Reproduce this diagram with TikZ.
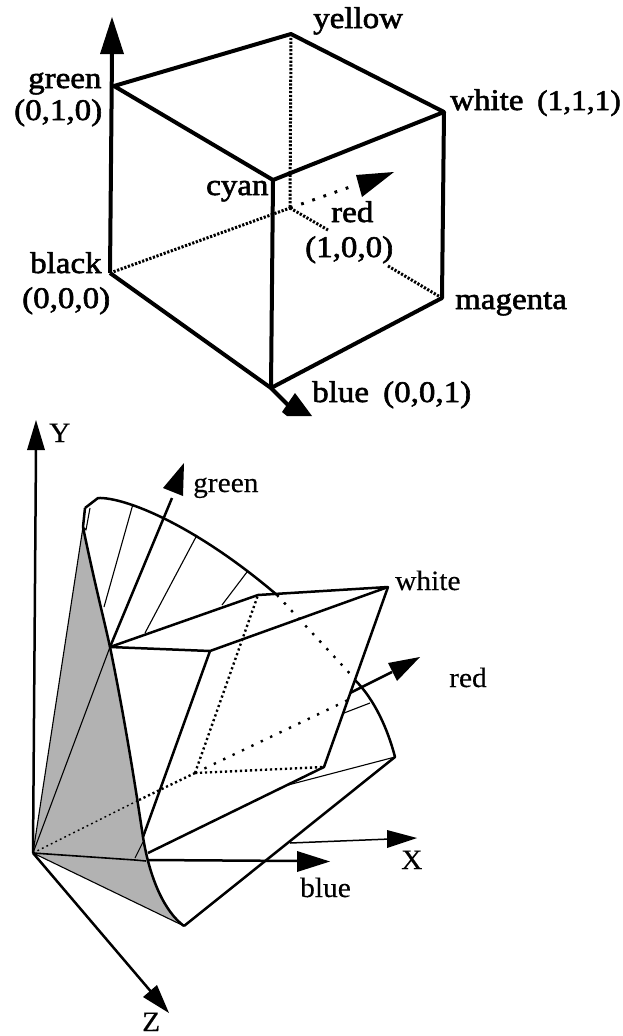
\documentclass[tikz,border=0pt]{standalone}
\usepackage{fontspec}
\newfontfamily\topfont[FakeStretch=1.1,FakeBold=2]{Liberation Serif}
\newfontfamily\lowfont[FakeStretch=1.05,FakeBold=0.25]{Liberation Serif}
\begin{document}
\begin{tikzpicture}[x=1pt,y=-1pt,line join=round,
  heavy/.style={line width=4pt,black},
  heavydot/.style={line width=3pt,black,dash pattern=on 2.2pt off 1.6pt},
  sparsedot/.style={line width=3pt,black,dash pattern=on 2.8pt off 9pt},
  toplabel/.style={anchor=base west,inner sep=0pt,font=\topfont\fontsize{30}{31}\selectfont},
  lowlabel/.style={anchor=base west,inner sep=0pt,font=\lowfont\fontsize{28}{29}\selectfont},
  bold/.style={line width=2.5pt,black},
  thin line/.style={line width=1.1pt,black},
  lowdot/.style={line width=2.4pt,black,dash pattern=on 2.2pt off 2.8pt},
  lowsparse/.style={line width=2.4pt,black,dash pattern=on 2.4pt off 8pt},
  finedot/.style={line width=1.4pt,black,dash pattern=on 1.8pt off 3.2pt},
  head/.style={fill=black,draw=none}]
\useasboundingbox (0,0) rectangle (623,1036);
%% ---------- upper cube ----------
\coordinate (black) at (110,273);
\coordinate (green) at (114,86);
\coordinate (yellow) at (291,34);
\coordinate (white) at (444,112);
\coordinate (cyan) at (273,180);
\coordinate (blue) at (271,388);
\coordinate (magenta) at (442,298);
\coordinate (back) at (290,208);
\coordinate (gtip) at (112,17);
\coordinate (gl) at (100,54);
\coordinate (gr) at (124,54);
\coordinate (gbase) at (112,54);
\coordinate (redend) at (350,187);
\coordinate (hidA) at (328,230);
\coordinate (hidB) at (388,266);
\draw[heavydot] (yellow) -- (back);
\draw[heavydot] (black) -- (back);
\draw[heavydot] (back) -- (hidA);
\draw[heavydot] (hidB) -- (magenta);
\draw[sparsedot] (back) -- (redend);
\draw[heavy] (black) -- (gbase);
\draw[heavy] (green) -- (yellow) -- (white) -- (cyan) -- cycle;
\draw[heavy] (cyan) -- (blue);
\draw[heavy] (white) -- (magenta) -- (blue) -- (black);
\draw[heavy] (blue) -- (288,405);
\fill[head] (gtip) -- (gr) -- (gl) -- cycle;
\fill[head] (356,175) -- (394,172) -- (362,197) -- cycle;
\fill[head] (282,412) -- (295,393) -- (312,416) -- (287,416) -- cycle;
\node[toplabel] (lyellow) at (313,28) {yellow};
\node[toplabel] (lgreen) at (28,88) {green};
\node[toplabel] (lg) at (14,120) {(0,1,0)};
\node[toplabel] (lwhite) at (450,110) {white};
\node[toplabel,font=\topfont\fontsize{28.5}{30}\selectfont] (lw) at (537,110) {(1,1,1)};
\node[toplabel] (lcyan) at (206,195) {cyan};
\node[toplabel] (lred) at (331,222) {red};
\node[toplabel] (lr) at (305,257) {(1,0,0)};
\node[toplabel] (lblack) at (30,273) {black};
\node[toplabel] (lb) at (22,308) {(0,0,0)};
\node[toplabel] (lmagenta) at (455,309) {magenta};
\node[toplabel] (lblue) at (312,402) {blue};
\node[toplabel] (lbb) at (383,402) {(0,0,1)};
%% ---------- lower figure ----------
\coordinate (O) at (33,853);
\coordinate (Ytip) at (36,420);
\coordinate (Ybase) at (36,449);
\coordinate (Ztip) at (169,1013);
\coordinate (Zbase) at (153,994);
\coordinate (top) at (85,508);
\coordinate (edge) at (83,527);
\coordinate (P) at (110,647);
\coordinate (Q) at (146,861);
\coordinate (S) at (184,926);
\coordinate (C) at (195,773);
\coordinate (W) at (388,587);
\coordinate (U) at (258,595);
\coordinate (V) at (210,651);
\coordinate (M) at (324,767);
\coordinate (K) at (277,595);
\coordinate (R) at (395,757);
\coordinate (A) at (355,680);
\fill[gray!60!white] (O) -- (edge) .. controls (95,585) and (103,615) .. (P)
  .. controls (122,705) and (133,770) .. (143,837) .. controls (150,880) and (165,912) .. (S) -- cycle;
\draw[thin line] (O) -- (edge);
\draw[thin line] (O) -- (P);
\draw[thin line] (O) -- (S);
\draw[bold,line width=1.6pt] (O) -- (135,860) -- (Q);
\draw[thin line] (135,858) -- (143,842);
\draw[finedot] (O) -- (139,800);
\draw[lowdot] (139,800) -- (C);
\draw[lowdot] (C) -- (U);
\draw[lowdot] (C) -- (M);
\draw[lowsparse] (C) -- (348,700);
\draw[lowsparse] (K) -- (354,678);
%% axes
\draw[bold] (O) -- (Ybase);
\fill[head] (Ytip) -- (45,450) -- (27,450) -- cycle;
\draw[bold] (O) -- (Zbase);
\fill[head] (Ztip) -- (143,997) -- (157,985) -- cycle;
\draw[line width=1.5pt] (290,843) -- (390,839);
\fill[head] (417,838) -- (387,848) -- (387,830) -- cycle;
%% gamut shell
\draw[bold] (top) -- (edge) .. controls (95,585) and (103,615) .. (P)
  .. controls (122,705) and (133,770) .. (143,837) .. controls (150,880) and (165,912) .. (S);
\draw[thin line] (edge) -- (86,530) -- (90,508);
\draw[bold] (top) -- (98,498) .. controls (125,497) and (195,525) .. (K);
\draw[thin line] (133,504) -- (104,607);
\draw[thin line] (197,535) -- (145,633);
\draw[thin line] (247,572) -- (222,605);
%% cube and arrows
\draw[bold] (P) -- (U) -- (W) -- (V) -- (P);
\draw[bold] (V) -- (143,837);
\draw[bold] (W) -- (M) -- (148,853);
\draw[bold] (A) .. controls (375,700) and (388,730) .. (R) -- (S);
\draw[thin line] (R) -- (288,785);
\draw[thin line] (344,713) -- (370,703);
\draw[bold] (P) -- (172,498);
\fill[head] (184,463) -- (183,496) -- (163,488) -- cycle;
\draw[bold] (350,693) -- (392,672);
\fill[head] (420,657) -- (397,681) -- (388,663) -- cycle;
\draw[bold] (148,860) -- (300,861);
\fill[head] (330,861.5) -- (297,872) -- (297,851) -- cycle;
\node[lowlabel] (lowY) at (49,442) {Y};
\node[lowlabel] (lowgreen) at (193,492) {green};
\node[lowlabel] (lowwhite) at (395,590) {white};
\node[lowlabel] (lowred) at (449,687) {red};
\node[lowlabel] (lowX) at (401,869) {X};
\node[lowlabel] (lowblue) at (300,897) {blue};
\node[lowlabel] (lowZ) at (142,1031) {Z};
\end{tikzpicture}
\end{document}
